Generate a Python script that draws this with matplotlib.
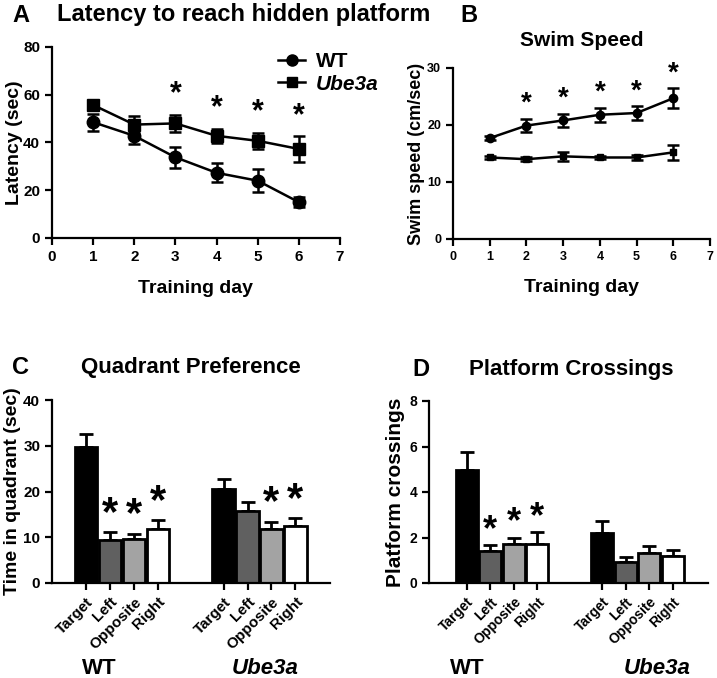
import numpy as np
import matplotlib
matplotlib.use("Agg")
import matplotlib.pyplot as plt
from matplotlib.lines import Line2D

plt.rcParams['font.family'] = ['Liberation Sans', 'DejaVu Sans']
plt.rcParams['font.weight'] = 'bold'
plt.rcParams['axes.linewidth'] = 1.6

# data
days = [1, 2, 3, 4, 5, 6]
lat_wt = [48.5, 42.8, 33.8, 27.3, 24.0, 15.0]
lat_wt_err = [3.5, 3.6, 4.5, 4.0, 4.8, 2.2]
lat_ube = [55.7, 47.5, 48.0, 42.8, 40.7, 37.3]
lat_ube_err = [1.5, 3.7, 3.5, 3.0, 3.4, 5.4]
lat_sig = [3, 4, 5, 6]

spd_wt = [17.7, 19.9, 20.8, 21.8, 22.1, 24.7]
spd_wt_err = [0.3, 1.2, 1.2, 1.2, 1.2, 1.8]
spd_ube = [14.3, 14.0, 14.5, 14.3, 14.3, 15.2]
spd_ube_err = [0.3, 0.3, 0.8, 0.3, 0.5, 1.3]
spd_sig = [2, 3, 4, 5, 6]

quadrants = ['Target', 'Left', 'Opposite', 'Right']
groups = ['WT', 'Ube3a']
bar_colors = ['#000000', '#606060', '#a3a3a3', '#ffffff']

quad_wt = [29.7, 9.3, 9.6, 11.9]
quad_wt_err = [2.9, 1.8, 1.2, 1.8]
quad_ube = [20.5, 15.8, 11.9, 12.4]
quad_ube_err = [2.2, 2.0, 1.5, 1.7]
quad_sig_wt = [1, 2, 3]
quad_sig_ube = [2, 3]

cross_wt = [4.97, 1.40, 1.70, 1.73]
cross_wt_err = [0.78, 0.27, 0.28, 0.50]
cross_ube = [2.20, 0.93, 1.33, 1.17]
cross_ube_err = [0.54, 0.22, 0.30, 0.30]
cross_sig_wt = [1, 2, 3]
cross_sig_ube = []

W, H = 717, 678
fig = plt.figure(figsize=(W / 100, H / 100), dpi=100)


def px(x, y):
    return x / W, 1 - y / H


def style(ax, fs=11):
    ax.spines['top'].set_visible(False)
    ax.spines['right'].set_visible(False)
    ax.tick_params(width=1.6, length=5, labelsize=fs, direction='out')
    for t in ax.get_xticklabels() + ax.get_yticklabels():
        t.set_fontweight('bold')


def line_panel(ax, wt, wt_err, ube, ube_err, sig, star_off, ms, fs):
    ax.errorbar(days, wt, yerr=wt_err, color='black', lw=1.8, marker='o',
                ms=ms, capsize=4, capthick=1.8, elinewidth=1.8, zorder=3)
    ax.errorbar(days, ube, yerr=ube_err, color='black', lw=1.8, marker='s',
                ms=ms - 1, capsize=4, capthick=1.8, elinewidth=1.8, zorder=3)
    for d in sig:
        i = days.index(d)
        top = max(wt[i] + wt_err[i], ube[i] + ube_err[i])
        ax.text(d, top + star_off, '*', ha='center', va='center',
                fontsize=fs, fontweight='bold')
    ax.set_xlim(0, 7)
    ax.set_xticks(range(8))


# ---- A
axA = fig.add_axes([52 / W, 1 - 238 / H, 288 / W, 191 / H])
line_panel(axA, lat_wt, lat_wt_err, lat_ube, lat_ube_err, lat_sig, 8.5, 9, 22)
axA.set_ylim(0, 80)
axA.set_yticks([0, 20, 40, 60, 80])
axA.set_ylabel('Latency (sec)', fontsize=14, fontweight='bold')
axA.yaxis.set_label_coords(-0.10, 0.5)
axA.set_xlabel('Training day', fontsize=14, fontweight='bold', labelpad=12)
style(axA, 11)
handles = [Line2D([], [], color='black', lw=1.8, marker='o', ms=8),
           Line2D([], [], color='black', lw=1.8, marker='s', ms=7)]
leg = axA.legend(handles, ['WT', 'Ube3a'], loc='upper left',
                 bbox_to_anchor=(0.72, 1.07), frameon=False, fontsize=15,
                 handlelength=1.3, handletextpad=0.5, labelspacing=0.15)
leg.get_texts()[1].set_fontstyle('italic')

# ---- B
axB = fig.add_axes([453 / W, 1 - 239 / H, 257 / W, 171 / H])
line_panel(axB, spd_wt, spd_wt_err, spd_ube, spd_ube_err, spd_sig, 2.6, 6, 20)
axB.set_ylim(0, 30)
axB.set_yticks([0, 10, 20, 30])
axB.set_ylabel('Swim speed (cm/sec)', fontsize=13, fontweight='bold')
axB.yaxis.set_label_coords(-0.11, 0.5)
axB.set_xlabel('Training day', fontsize=14, fontweight='bold', labelpad=12)
style(axB, 9)


# ---- bar panels
def bar_panel(ax, wt, wt_err, ube, ube_err, sig_wt, sig_ube, star_off, fs):
    pos_wt = np.arange(4)
    pos_ube = np.arange(4) + 5.75
    for pos, vals, errs, sig in [(pos_wt, wt, wt_err, sig_wt),
                                 (pos_ube, ube, ube_err, sig_ube)]:
        ax.bar(pos, vals, width=0.94, color=bar_colors, edgecolor='black',
               linewidth=2, zorder=2)
        ax.errorbar(pos, vals, yerr=[np.zeros(4), errs], fmt='none',
                    ecolor='black', elinewidth=2, capsize=5, capthick=2,
                    zorder=1)
        for i in sig:
            ax.text(pos[i], vals[i] + errs[i] + star_off, '*', ha='center',
                    va='center', fontsize=fs, fontweight='bold')
    ticks = np.concatenate([pos_wt, pos_ube])
    ax.set_xticks(ticks)
    ax.set_xticklabels(quadrants * 2, rotation=45, ha='right',
                       rotation_mode='anchor', fontsize=11, fontweight='bold')
    return pos_wt, pos_ube


axC = fig.add_axes([52 / W, 1 - 583 / H, 278 / W, 183 / H])
bar_panel(axC, quad_wt, quad_wt_err, quad_ube, quad_ube_err,
          quad_sig_wt, quad_sig_ube, 4.0, 30)
axC.set_xlim(-1.43, 10.2)
axC.set_ylim(0, 40)
axC.set_yticks([0, 10, 20, 30, 40])
axC.set_ylabel('Time in quadrant (sec)', fontsize=14, fontweight='bold')
axC.yaxis.set_label_coords(-0.11, 0.5)
style(axC, 11)

axD = fig.add_axes([429 / W, 1 - 583 / H, 279 / W, 182 / H])
bar_panel(axD, cross_wt, cross_wt_err, cross_ube, cross_ube_err,
          cross_sig_wt, cross_sig_ube, 0.65, 26)
axD.set_xlim(-1.6, 10.24)
axD.set_ylim(0, 8)
axD.set_yticks([0, 2, 4, 6, 8])
axD.set_ylabel('Platform crossings', fontsize=15, fontweight='bold')
axD.yaxis.set_label_coords(-0.085, 0.5)
style(axD, 10)

# group labels
for (x, y), g in zip([(99, 668), (265, 668), (467, 668), (657, 668)],
                     groups * 2):
    fig.text(*px(x, y), g, ha='center', va='center', fontsize=16,
             fontweight='bold', fontstyle='italic' if g == 'Ube3a' else 'normal')

# titles
fig.text(*px(12, 15), 'A', ha='left', va='center', fontsize=17, fontweight='bold')
fig.text(*px(57, 15), 'Latency to reach hidden platform', ha='left',
         va='center', fontsize=17, fontweight='bold')
fig.text(*px(460, 15), 'B', ha='left', va='center', fontsize=17, fontweight='bold')
fig.text(*px(582, 40), 'Swim Speed', ha='center', va='center', fontsize=15,
         fontweight='bold')
fig.text(*px(12, 367), 'C', ha='left', va='center', fontsize=17, fontweight='bold')
fig.text(*px(191, 367), 'Quadrant Preference', ha='center', va='center',
         fontsize=16, fontweight='bold')
fig.text(*px(412, 370), 'D', ha='left', va='center', fontsize=17, fontweight='bold')
fig.text(*px(571, 370), 'Platform Crossings', ha='center', va='center',
         fontsize=16, fontweight='bold')

fig.savefig('out.png', dpi=100)
